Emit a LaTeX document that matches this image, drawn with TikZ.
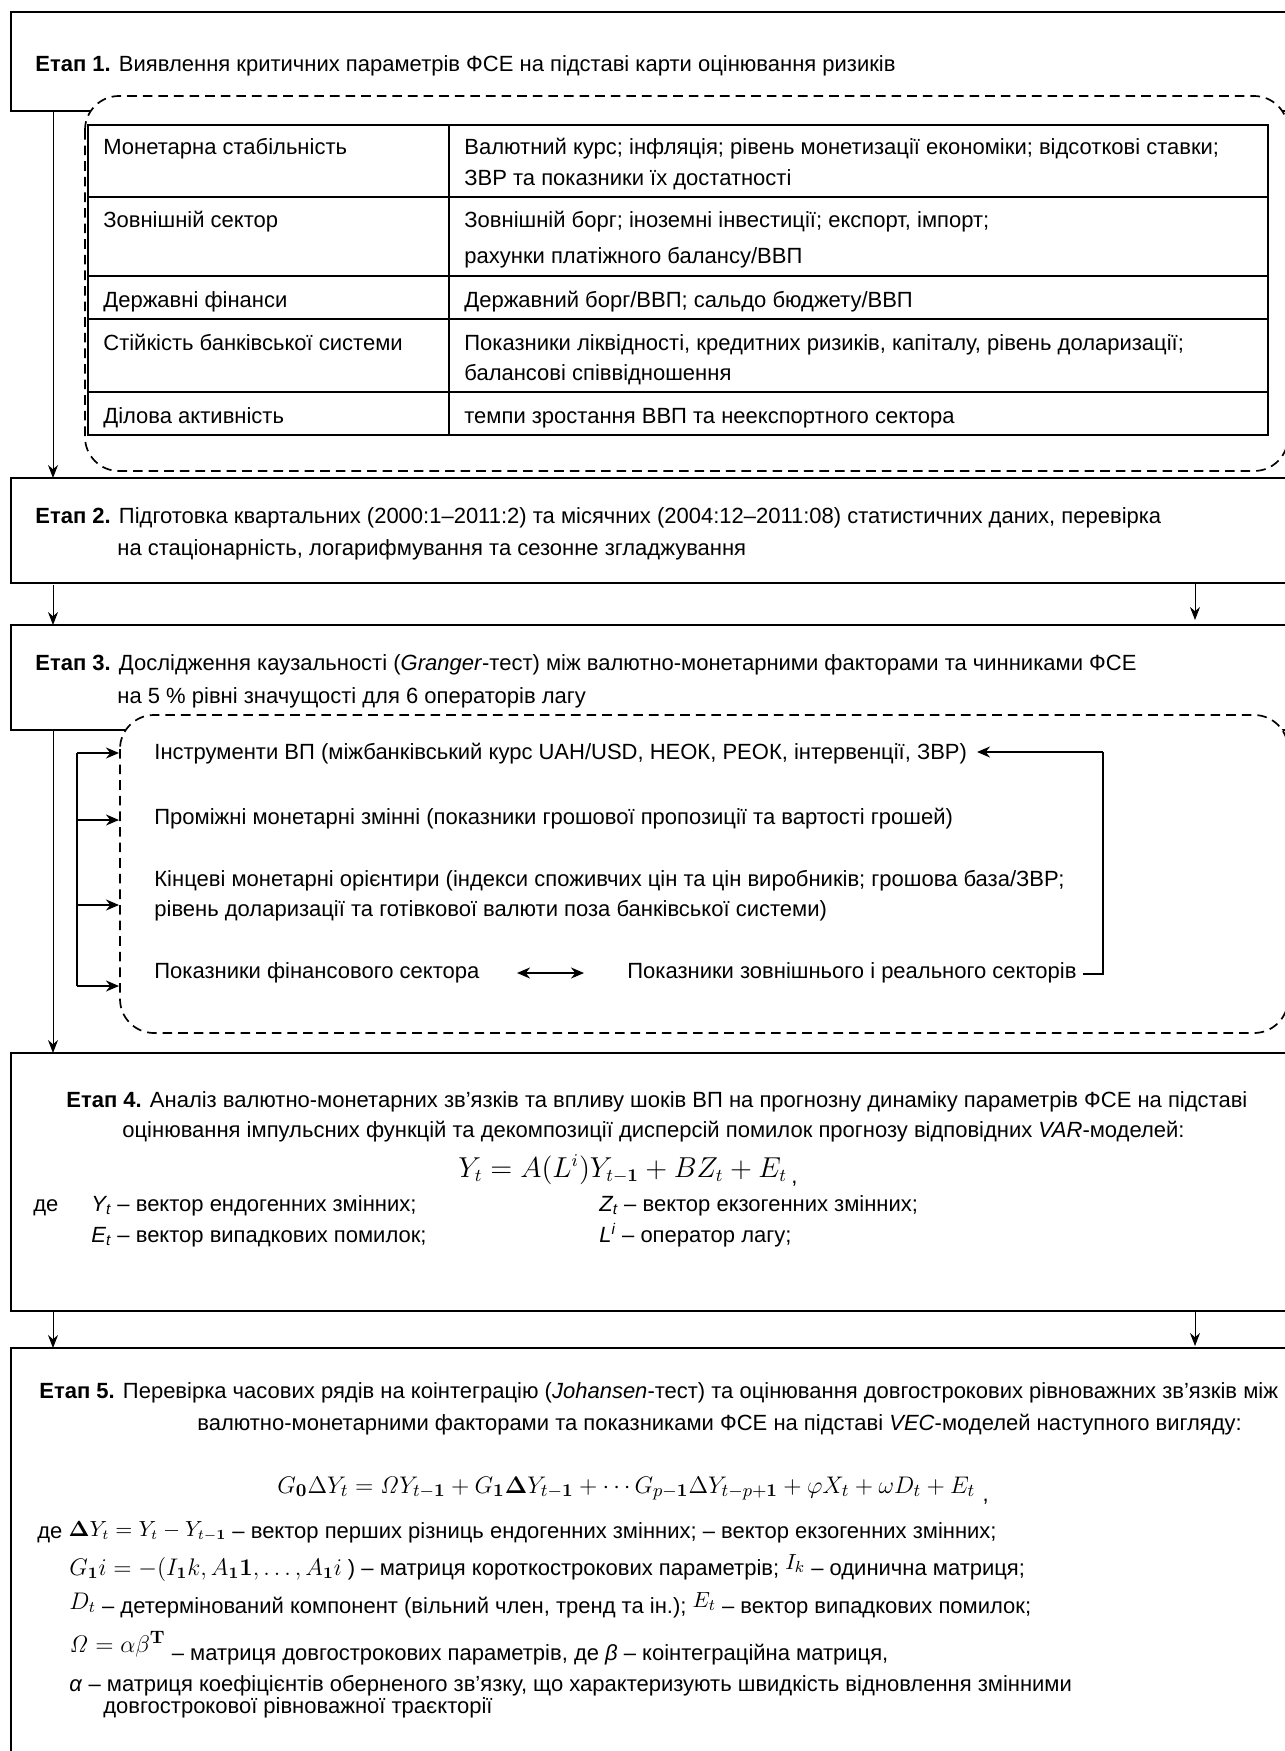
\documentclass[tikz,border=0pt]{standalone}
\usepackage[no-math]{fontspec}
\setmainfont{Liberation Sans}
\usepackage{amsmath}
\usepackage{amssymb}
\usepackage{bm}
\usetikzlibrary{arrows.meta}
\newcommand{\etap}[1]{\textbf{Етап #1.}}
\newcommand{\vsub}[2]{\textit{#1\textsubscript{#2}}}
\newcommand{\mfont}[1]{\fontsize{#1}{14}\selectfont}

\begin{document}
\begin{tikzpicture}[x=0.5pt, y=-0.5pt,
		txt/.style={anchor=base west, inner sep=0pt, font=\fontsize{11}{13}\selectfont},
		frm/.style={anchor=base west, inner sep=0pt, font=\fontsize{13.5}{15}\selectfont, text height=8pt, text depth=3pt},
		stagebox/.style={line width=1.25pt},
		dashbox/.style={line width=0.85pt, dash pattern=on 4.8pt off 3pt, rounded corners=17pt, fill=white},
		cell/.style={line width=0.65pt},
		flow/.style={-{Stealth[length=6.5pt, width=5pt]}, line width=0.5pt},
		feed/.style={-{Stealth[length=6.5pt, width=5.5pt]}, line width=1pt}]
		\useasboundingbox (0,0) rectangle (1285,1751);
		\clip (0,0) rectangle (1285,1751);

		% stage frames
		\draw[stagebox] (11,12) rectangle (1300,111);
		\draw[stagebox] (11,478) rectangle (1300,583);
		\draw[stagebox] (11,625) rectangle (1300,730);
		\draw[stagebox] (11,1053) rectangle (1300,1311);
		\draw[stagebox] (11,1348) rectangle (1300,1790);
		\draw[dashbox] (85,96) rectangle (1288,471);
		\draw[dashbox] (120,715) rectangle (1288,1033);

		% stage 1
		\node[txt] at (35,71) (s1) {\etap{1} Виявлення критичних параметрів ФСЕ на підставі карти оцінювання ризиків};

		\draw[cell] (88,125) rectangle (1268,435);
		\draw[cell] (449,125) -- (449,435);
		\foreach \y in {197,276,319,392}
			\draw[cell] (88,\y) -- (1268,\y);

		\node[txt] at (103,154) (mon) {Монетарна стабільність};
		\node[txt] at (464,154) (mon1) {Валютний курс; інфляція; рівень монетизації економіки; відсоткові ставки;};
		\node[txt] at (464,185) (mon2) {ЗВР та показники їх достатності};
		\node[txt] at (103,227) (ext) {Зовнішній сектор};
		\node[txt] at (464,227) (ext1) {Зовнішній борг; іноземні інвестиції; експорт, імпорт;};
		\node[txt] at (464,263) (ext2) {рахунки платіжного балансу/ВВП};
		\node[txt] at (103,307) (pub) {Державні фінанси};
		\node[txt] at (464,307) (pub1) {Державний борг/ВВП; сальдо бюджету/ВВП};
		\node[txt] at (103,350) (bank) {Стійкість банківської системи};
		\node[txt] at (464,350) (bank1) {Показники ліквідності, кредитних ризиків, капіталу, рівень доларизації;};
		\node[txt] at (464,380) (bank2) {балансові співвідношення};
		\node[txt] at (103,423) (bus) {Ділова активність};
		\node[txt] at (464,423) (bus1) {темпи зростання ВВП та неекспортного сектора};

		% stage 2
		\node[txt] at (35,523) (s2a) {\etap{2} Підготовка квартальних (2000:1–2011:2) та місячних (2004:12–2011:08) статистичних даних, перевірка};
		\node[txt] at (117,555) (s2b) {на стаціонарність, логарифмування та сезонне згладжування};

		% stage 3
		\node[txt] at (35,670) (s3a) {\etap{3} Дослідження каузальності (\textit{Granger}-тест) між валютно-монетарними факторами та чинниками ФСЕ};
		\node[txt] at (117,703) (s3b) {на 5 \% рівні значущості для 6 операторів лагу};

		\node[txt] at (154,759) (inst) {Інструменти ВП (міжбанківський курс UAH/USD, НЕОК, РЕОК, інтервенції, ЗВР)};
		\node[txt] at (154,824) (mid) {Проміжні монетарні змінні (показники грошової пропозиції та вартості грошей)};
		\node[txt] at (154,886) (fin1) {Кінцеві монетарні орієнтири (індекси споживчих цін та цін виробників; грошова база/ЗВР;};
		\node[txt] at (154,916) (fin2) {рівень доларизації та готівкової валюти поза банківської системи)};
		\node[txt] at (154,978) (fs) {Показники фінансового сектора};
		\node[txt] at (627,978) (rs) {Показники зовнішнього і реального секторів};

		% stage 4
		\node[txt] at (66,1107) (s4a) {\etap{4} Аналіз валютно-монетарних зв’язків та впливу шоків ВП на прогнозну динаміку параметрів ФСЕ на підставі};
		\node[txt] at (122,1137) (s4b) {оцінювання імпульсних функцій та декомпозиції дисперсій помилок прогнозу відповідних \textit{VAR}-моделей:};
		\node[frm] at (458,1177) (var) {$Y_t = A(L^i)Y_{t-\mathbf{1}} + BZ_t + E_t$\,\raisebox{-3pt}{\fontsize{11}{13}\selectfont,}};
		\node[txt] at (33,1211) (de4) {де};
		\node[txt] at (91,1211) (yt) {\vsub{Y}{t} – вектор ендогенних змінних;};
		\node[txt] at (599,1211) (zt) {\vsub{Z}{t} – вектор екзогенних змінних;};
		\node[txt] at (91,1242) (et) {\vsub{E}{t} – вектор випадкових помилок;};
		\node[txt] at (599,1242) (li) {\textit{L\textsuperscript{i}} – оператор лагу;};

		% stage 5
		\node[txt] at (39,1398) (s5a) {\etap{5} Перевірка часових рядів на коінтеграцію (\textit{Johansen}-тест) та оцінювання довгострокових рівноважних зв’язків між};
		\node[txt] at (197,1430) (s5b) {валютно-монетарними факторами та показниками ФСЕ на підставі \textit{VEC}-моделей наступного вигляду:};
		\node[frm, font=\fontsize{13}{15}\selectfont] at (277,1493) (vec) {$G_{\mathbf{0}}\Delta Y_t = \mathit{\Omega} Y_{t-\mathbf{1}} + G_{\mathbf{1}}\bm{\Delta} Y_{t-\mathbf{1}} + \cdots G_{p-\mathbf{1}}\Delta Y_{t-p+\mathbf{1}} + \varphi X_t + \omega D_t + E_t$\ \raisebox{-4pt}{\fontsize{11}{13}\selectfont,}};
		\node[txt] at (37,1538) (de5) {де \raisebox{1pt}{\mfont{10.5}$\bm{\Delta} Y_t = Y_t - Y_{t-\mathbf{1}}$} – вектор перших різниць ендогенних змінних; – вектор екзогенних змінних;};
		\node[txt] at (69,1575) (gi) {{\mfont{11.5}$G_{\mathbf{1}}i = -(I_{\mathbf{1}}k, A_{\mathbf{1}}\mathbf{1}, \dots, A_{\mathbf{1}}i$} ) – матриця короткострокових параметрів; \raisebox{3pt}{$I_k$} – одинична матриця;};
		\node[txt] at (69,1613) (dt) {\raisebox{2pt}{\mfont{11.5}$D_t$} – детермінований компонент (вільний член, тренд та ін.); \raisebox{3pt}{$E_t$} – вектор випадкових помилок;};
		\node[txt] at (69,1660) (om) {\raisebox{4pt}{\mfont{12.5}$\mathit{\Omega} = \alpha\beta^{\mathbf{T}}$} – матриця довгострокових параметрів, де \textit{β} – коінтеграційна матриця,};
		\node[txt] at (69,1691) (al1) {\textit{α} – матриця коефіцієнтів оберненого зв’язку, що характеризують швидкість відновлення змінними};
		\node[txt] at (103,1713) (al2) {довгострокової рівноважної траєкторії};

		% connectors between stages
		\coordinate (s1out) at (53,111);
		\coordinate (s2in) at (53,478);
		\coordinate (s2out) at (53,585);
		\coordinate (s3in) at (53,625);
		\coordinate (s2outR) at (1195,583);
		\coordinate (s3inR) at (1195,620);
		\coordinate (s3out) at (53,730);
		\coordinate (s4in) at (53,1053);
		\coordinate (s4out) at (53,1311);
		\coordinate (s5in) at (53,1348);
		\coordinate (s4outR) at (1195,1311);
		\coordinate (s5inR) at (1195,1346);
		\draw[flow] (s1out) -- (s2in);
		\draw[flow] (s2out) -- (s3in);
		\draw[flow] (s2outR) -- (s3inR);
		\draw[flow] (s3out) -- (s4in);
		\draw[flow] (s4out) -- (s5in);
		\draw[flow] (s4outR) -- (s5inR);

		% feedback inside stage 3
		\coordinate (busT) at (77,753);
		\coordinate (busB) at (77,986);
		\coordinate (in1) at (119,753);
		\coordinate (in2) at (119,820);
		\coordinate (in3) at (119,905);
		\coordinate (in4) at (119,986);
		\draw[line width=0.85pt] (busT) -- (busB);
		\draw[feed] (busT) -- (in1);
		\draw[feed] (in2 -| busT) -- (in2);
		\draw[feed] (in3 -| busT) -- (in3);
		\draw[feed] (busB) -- (in4);

		\coordinate (fsR) at (517,973);
		\coordinate (rsL) at (584,973);
		\draw[feed, {Stealth[length=6.5pt, width=5.5pt]}-{Stealth[length=6.5pt, width=5.5pt]}] (fsR) -- (rsL);

		\coordinate (rsEnd) at (1083,974);
		\coordinate (retB) at (1103,974);
		\coordinate (retT) at (1103,752);
		\coordinate (instR) at (977,752);
		\draw[line width=0.65pt] (rsEnd) -- (retB) -- (retT);
		\draw[feed, line width=0.85pt] (retT) -- (instR);
\end{tikzpicture}
\end{document}
